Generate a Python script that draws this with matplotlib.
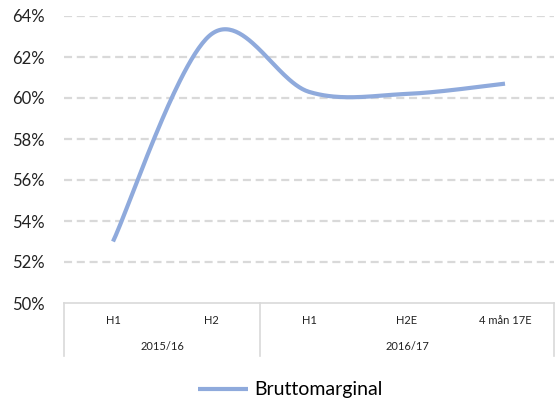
import numpy as np
import matplotlib
matplotlib.use("Agg")
import matplotlib.pyplot as plt

plt.rcParams['font.family'] = ['Lato', 'DejaVu Sans']
plt.rcParams['lines.scale_dashes'] = False

periods = ["H1", "H2", "H1", "H2E", "4 mån 17E"]
years = ["2015/16", "2016/17"]
year_spans = [(0, 1), (2, 4)]
bruttomarginal = [0.530, 0.631, 0.603, 0.602, 0.607]
yticks = [0.50, 0.52, 0.54, 0.56, 0.58, 0.60, 0.62, 0.64]

line_col = "#8FAADC"
grid_col = "#D9D9D9"


def smooth(xs, ys, n=60):
    # Excel-like smoothed line (cubic Bezier, Catmull-Rom tangents /6)
    p = np.column_stack([xs, ys]).astype(float)
    p_ext = np.vstack([p[0], p, p[-1]])
    out = []
    for i in range(len(p) - 1):
        p0, p1, p2, p3 = p_ext[i], p_ext[i + 1], p_ext[i + 2], p_ext[i + 3]
        c1 = p1 + (p2 - p0) / 6
        c2 = p2 - (p3 - p1) / 6
        t = np.linspace(0, 1, n)[:, None]
        seg = ((1 - t) ** 3) * p1 + 3 * ((1 - t) ** 2) * t * c1 + 3 * (1 - t) * t ** 2 * c2 + t ** 3 * p2
        out.append(seg if i == 0 else seg[1:])
    s = np.vstack(out)
    return s[:, 0], s[:, 1]


fig = plt.figure(figsize=(5.58, 4.01), dpi=100)
ax = fig.add_axes([64 / 558, 1 - 303 / 401, 490 / 558, 287 / 401])

x = np.arange(len(periods))
sx, sy = smooth(x, bruttomarginal)
ax.plot(sx, sy, color=line_col, lw=3, solid_capstyle='butt', label="Bruttomarginal", zorder=3)

ax.set_xlim(-0.5, len(periods) - 0.5)
ax.set_ylim(0.50, 0.64)
ax.set_yticks(yticks)
ax.set_yticklabels([f"{v * 100:.0f}%" for v in yticks], fontsize=12, color="#222222")
ax.tick_params(axis='y', length=0, pad=14)
ax.set_xticks([])

for v in yticks[1:]:
    ax.axhline(v, color=grid_col, lw=1.6, ls=(0, (5.8, 3.4)), zorder=1)

for s in ["top", "right", "left"]:
    ax.spines[s].set_visible(False)
ax.spines["bottom"].set_color(grid_col)
ax.spines["bottom"].set_linewidth(1.2)

# multi-level category axis
tr = ax.get_xaxis_transform()
box_h = 53 / 287
for xb in [-0.5, year_spans[0][1] + 0.5, len(periods) - 0.5]:
    ax.plot([xb, xb], [0, -box_h], transform=tr, color=grid_col, lw=1.2, clip_on=False)
for i, lab in enumerate(periods):
    ax.text(i, -17 / 287, lab, transform=tr, ha='center', va='center', fontsize=8, color="#222222")
for lab, (a, b) in zip(years, year_spans):
    ax.text((a + b) / 2, -43 / 287, lab, transform=tr, ha='center', va='center', fontsize=8, color="#222222")

fig.legend(loc='center', bbox_to_anchor=(290 / 558, 1 - 390 / 401), frameon=False,
           fontsize=14, handlelength=2.6, handletextpad=0.3)

fig.savefig("out.png", dpi=100)
